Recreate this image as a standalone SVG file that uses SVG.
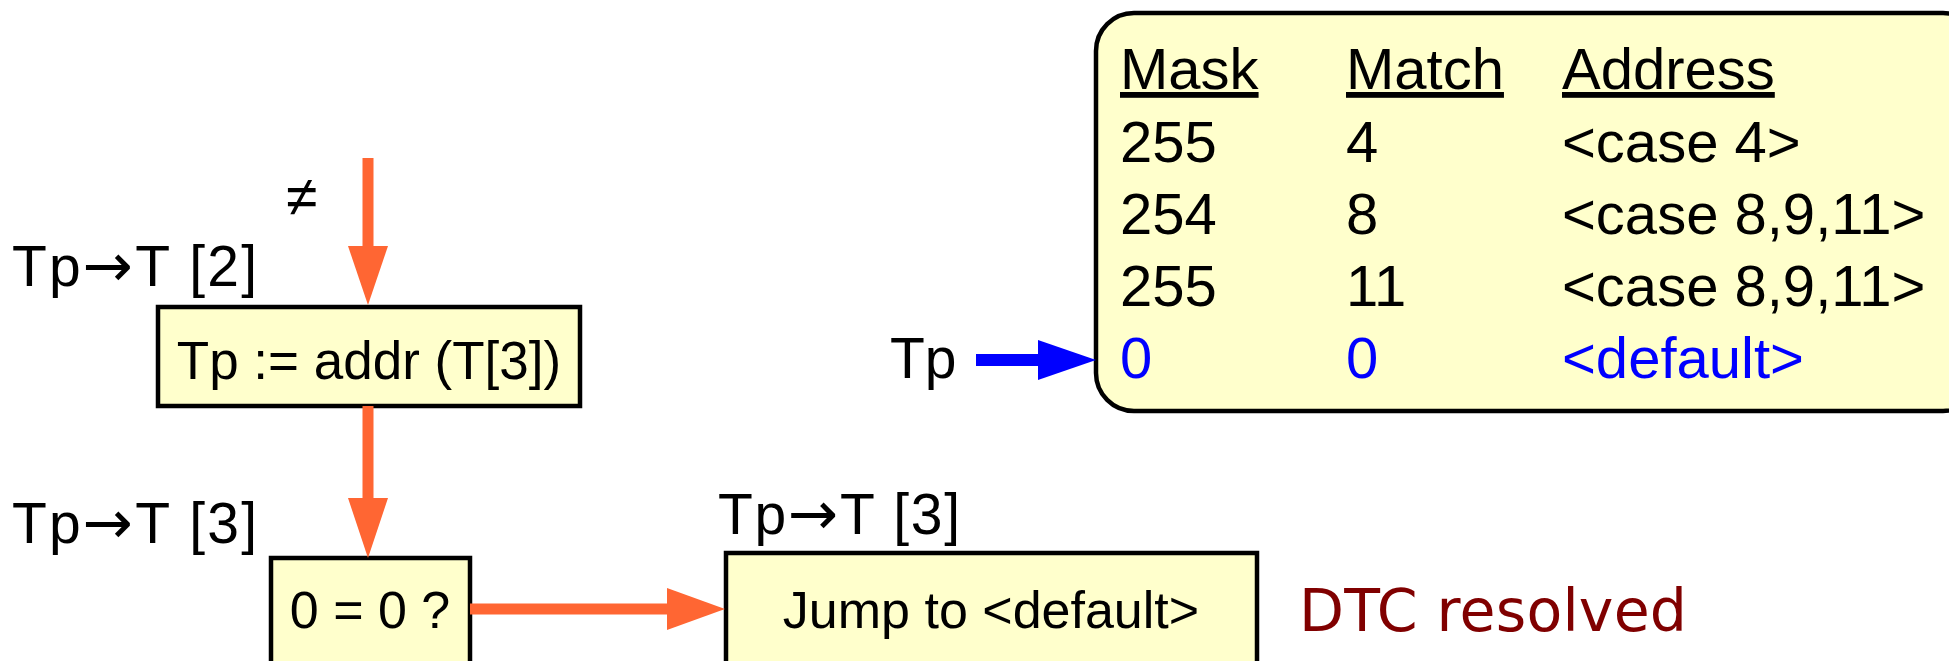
<svg xmlns="http://www.w3.org/2000/svg" width="1949" height="661" viewBox="0 0 1949 661">
  <style>
    .box { fill: #ffffcc; stroke: #000; stroke-width: 4.5; }
    .t { font-family: "Liberation Sans", Arial, sans-serif; fill: #000; }
    .lbl { font-family: "Liberation Sans", Arial, sans-serif; font-size: 57px; fill: #000; }
    .arr { font-family: "DejaVu Sans", sans-serif; font-size: 60px; }
    .tab { font-family: "Liberation Sans", Arial, sans-serif; font-size: 58px; fill: #000; }
    .blue { fill: #0000ff; }
    .flow { stroke: #ff6633; stroke-width: 11; fill: none; }
    .head { fill: #ff6633; }
  </style>

  <!-- dispatch table -->
  <g id="table">
    <rect x="1096" y="13" width="885" height="398" rx="38" ry="38" class="box"/>
    <text class="tab" x="1120" y="89" text-decoration="underline">Mask</text>
    <text class="tab" x="1346" y="89" text-decoration="underline">Match</text>
    <text class="tab" x="1562" y="89" text-decoration="underline">Address</text>
    <text class="tab" x="1120" y="162">255</text>
    <text class="tab" x="1346" y="162">4</text>
    <text class="tab" x="1562" y="162">&lt;case 4&gt;</text>
    <text class="tab" x="1120" y="234">254</text>
    <text class="tab" x="1346" y="234">8</text>
    <text class="tab" x="1562" y="234">&lt;case 8,9,11&gt;</text>
    <text class="tab" x="1120" y="306">255</text>
    <text class="tab" x="1346" y="306">11</text>
    <text class="tab" x="1562" y="306">&lt;case 8,9,11&gt;</text>
    <text class="tab blue" x="1120" y="378">0</text>
    <text class="tab blue" x="1346" y="378">0</text>
    <text class="tab blue" x="1562" y="378">&lt;default&gt;</text>
  </g>

  <!-- flow nodes -->
  <g id="assign">
    <rect x="158" y="307" width="422" height="99" class="box"/>
    <text class="t" x="369" y="379" font-size="53" text-anchor="middle">Tp := addr (T[3])</text>
  </g>
  <g id="compare">
    <rect x="271" y="558" width="199" height="110" class="box"/>
    <text class="t" x="370" y="628" font-size="52" text-anchor="middle">0 = 0 ?</text>
  </g>
  <g id="jump">
    <rect x="726" y="553" width="531" height="115" class="box"/>
    <text class="t" x="991" y="628" font-size="52" text-anchor="middle">Jump to &lt;default&gt;</text>
  </g>

  <!-- annotations -->
  <g id="labels">
    <text class="lbl" x="12" y="286" textLength="245" lengthAdjust="spacing">Tp<tspan class="arr">→</tspan>T [2]</text>
    <text class="lbl" x="286" y="216" font-size="48">≠</text>
    <text class="lbl" x="12" y="543" textLength="245" lengthAdjust="spacing">Tp<tspan class="arr">→</tspan>T [3]</text>
    <text class="lbl" x="718" y="534" textLength="242" lengthAdjust="spacing">Tp<tspan class="arr">→</tspan>T [3]</text>
    <text class="lbl" x="890" y="378">Tp</text>
    <text x="1299" y="631" font-family="DejaVu Sans, sans-serif" font-size="58.5" fill="#800000" textLength="388" lengthAdjust="spacing">DTC resolved</text>
  </g>

  <!-- connectors -->
  <g id="connectors">
    <line x1="368" y1="158" x2="368" y2="250" class="flow"/>
    <polygon points="348,246 388,246 368,305" class="head"/>
    <line x1="368" y1="406" x2="368" y2="502" class="flow"/>
    <polygon points="348,498 388,498 368,558" class="head"/>
    <line x1="470" y1="609" x2="672" y2="609" class="flow"/>
    <polygon points="667,588 667,630 725,609" class="head"/>
    <line x1="976" y1="360" x2="1042" y2="360" stroke="#0000ff" stroke-width="12"/>
    <polygon points="1038,340 1038,380 1096,360" fill="#0000ff"/>
  </g>
</svg>
